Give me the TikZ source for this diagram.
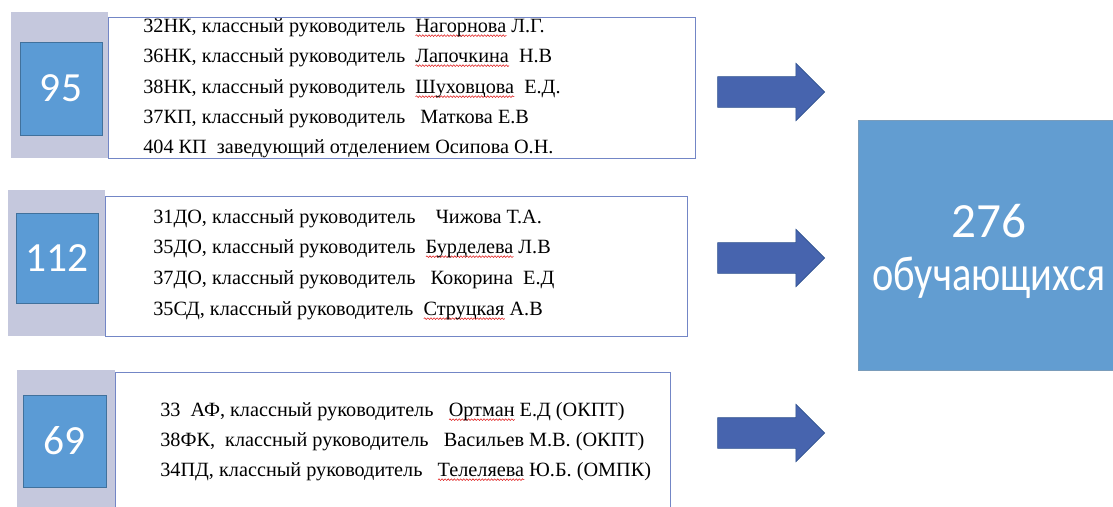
\documentclass[tikz,border=0pt]{standalone}
\usepackage{fontspec}
\setmainfont{Liberation Serif}
\newfontfamily\calibri{Carlito}
\newfontfamily\calibrinarrow[FakeStretch=0.82]{Carlito}
\usetikzlibrary{shapes.arrows, decorations.pathmorphing}

\definecolor{bandgrey}{HTML}{C5C8DD}
\definecolor{numblue}{HTML}{5B9BD5}
\definecolor{numedge}{HTML}{41719C}
\definecolor{listedge}{HTML}{7386C6}
\definecolor{arrowblue}{HTML}{4764AE}
\definecolor{arrowedge}{HTML}{2F528F}
\definecolor{totalblue}{HTML}{629DD1}
\definecolor{spellred}{HTML}{E02020}

% red spell-check wave under a word
\newcommand\spellmark[1]{\setbox0\hbox{#1}\rlap{\tikz[baseline=0pt]\draw[spellred, line width=0.4pt, decorate, decoration={snake, amplitude=0.6pt, segment length=2.2pt}] (0pt,-2.6pt) -- (\wd0,-2.6pt);}\box0\relax}

\begin{document}
\begin{tikzpicture}[x=0.025cm, y=-0.025cm,
band/.style={fill=bandgrey, draw=none, inner sep=0pt},
numbox/.style={fill=numblue, draw=numedge, inner sep=0pt, text=white, font=\calibri\fontsize{29.5}{30}\selectfont},
listbox/.style={draw=listedge, inner sep=0pt},
row/.style={anchor=base west, inner sep=0pt, font=\fontsize{14.4}{16}\selectfont},
blockarrow/.style={single arrow, anchor=tip, fill=arrowblue, draw=arrowedge, minimum width=1.425cm, minimum height=2.675cm, single arrow head extend=0.3375cm, single arrow head indent=0pt, inner xsep=0pt, inner ysep=0.375cm}
]
\clip (0,0) rectangle (1113,507);

% first group
\node[band, minimum width=2.425cm, minimum height=3.65cm] at (59.5,85) (g1) {};
\node[listbox, minimum width=14.675cm, minimum height=3.525cm] at (401.5,87.5) (t1) {};
\node[numbox, minimum width=2.05cm, minimum height=2.325cm] at (61,88.5) (b1) {95};
\node[row] at (143,32) (r11) {32НК, классный руководитель~ \spellmark{Нагорнова} Л.Г.};
\node[row] at (143,62) (r12) {36НК, классный руководитель~ \spellmark{Лапочкина}~ Н.В};
\node[row] at (143,93) (r13) {38НК, классный руководитель~ \spellmark{Шуховцова}~ Е.Д.};
\node[row] at (143,123) (r14) {37КП, классный руководитель~~ Маткова Е.В};
\node[row] at (143,153) (r15) {404 КП~ заведующий отделением Осипова О.Н.};

% second group
\node[band, minimum width=2.425cm, minimum height=3.65cm] at (56.5,263) (g2) {};
\node[listbox, minimum width=14.55cm, minimum height=3.5cm] at (396,266) (t2) {};
\node[numbox, minimum width=2.05cm, minimum height=2.25cm] at (57,258) (b2) {112};
\node[row] at (153,223) (r21) {31ДО, классный руководитель~~~ Чижова Т.А.};
\node[row] at (153,253) (r22) {35ДО, классный руководитель~ \spellmark{Бурделева} Л.В};
\node[row] at (153,284) (r23) {37ДО, классный руководитель~~ Кокорина~ Е.Д};
\node[row] at (153,315) (r24) {35СД, классный руководитель~ \spellmark{Струцкая} А.В};

% third group
\node[band, minimum width=2.45cm, minimum height=3.6cm] at (66,442) (g3) {};
\node[listbox, minimum width=13.875cm, minimum height=3.7cm] at (392.5,446) (t3) {};
\node[numbox, minimum width=2.075cm, minimum height=2.3cm] at (64.5,441) (b3) {69};
\node[row] at (160,416) (r31) {33~ АФ, классный руководитель~~ \spellmark{Ортман} Е.Д (ОКПТ)};
\node[row] at (160,446) (r32) {38ФК,~ классный руководитель~~ Васильев М.В. (ОКПТ)};
\node[row] at (160,476) (r33) {34ПД, классный руководитель~~ \spellmark{Телеляева} Ю.Б. (ОМПК)};

% arrows
\node[blockarrow] at (825,92) (a1) {};
\node[blockarrow] at (825,258) (a2) {};
\node[blockarrow] at (825,433) (a3) {};

% total
\node[fill=totalblue, draw=numedge!70, inner sep=0pt, minimum width=6.5cm, minimum height=6.25cm, anchor=north west] at (858,120) (total) {};
\node[text=white, anchor=base, inner sep=0pt, font=\calibri\fontsize{35}{37}\selectfont] at (989,237) (totalnum) {276};
\node[text=white, anchor=base, inner sep=0pt, font=\calibrinarrow\fontsize{35}{37}\selectfont] at (989,290) (totalword) {обучающихся};
\end{tikzpicture}
\end{document}
